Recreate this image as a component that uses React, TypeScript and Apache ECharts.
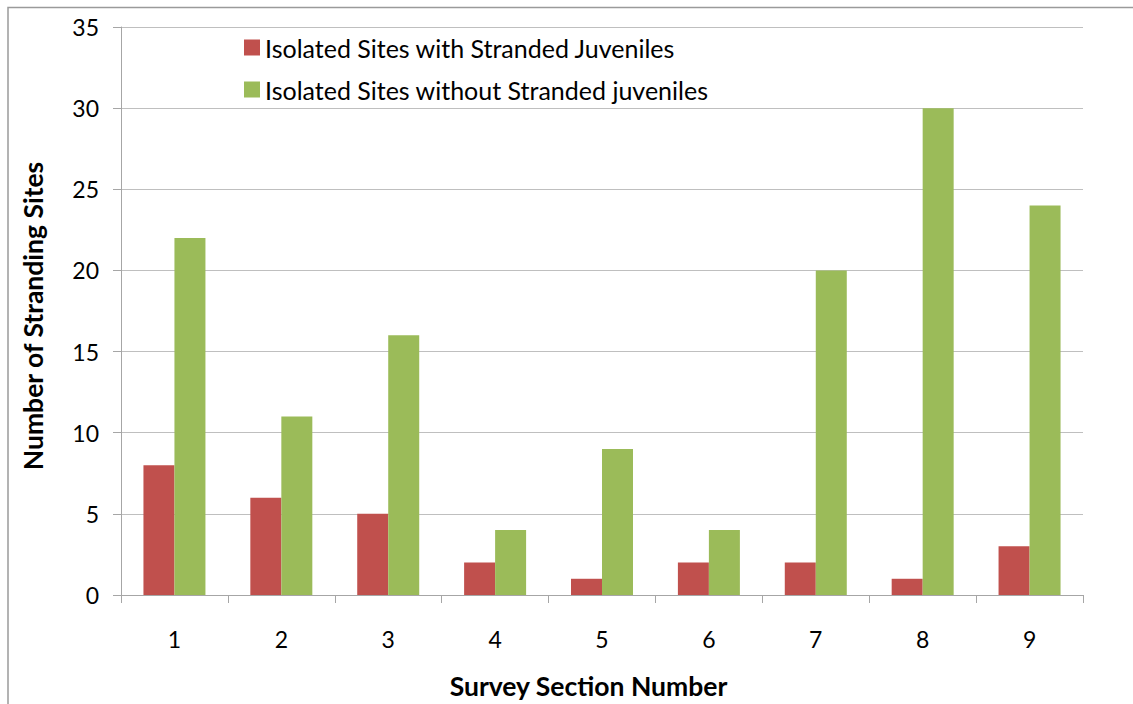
import React, { useEffect, useRef } from "react";
import * as echarts from "echarts";

const sections = ["1", "2", "3", "4", "5", "6", "7", "8", "9"];
const withJuveniles = [8, 6, 5, 2, 1, 2, 2, 1, 3];
const withoutJuveniles = [22, 11, 16, 4, 9, 4, 20, 30, 24];
const seriesNames = [
  "Isolated Sites with Stranded Juveniles",
  "Isolated Sites without Stranded juveniles",
];

const FONT = "Lato, 'Open Sans', sans-serif";

export default function App() {
  const ref = useRef<HTMLDivElement>(null);

  useEffect(() => {
    if (!ref.current) return;
    const chart = echarts.init(ref.current, null, { renderer: "svg" });
    chart.setOption({
      animation: false,
      backgroundColor: "#ffffff",
      textStyle: { fontFamily: FONT, color: "#000" },
      graphic: [
        {
          type: "rect",
          shape: { x: 8, y: 7.5, width: 1200, height: 800 },
          style: { fill: "none", stroke: "#9a9a9a", lineWidth: 1.5 },
          silent: true,
          z: -1,
        },
      ],
      legend: {
        orient: "vertical",
        left: 239,
        top: 30,
        itemWidth: 16,
        itemHeight: 16,
        itemGap: 17,
        icon: "rect",
        textStyle: {
          fontSize: 25,
          lineHeight: 25,
          fontFamily: FONT,
          color: "#000",
        },
        data: seriesNames,
      },
      grid: { left: 121, right: 50, top: 27, bottom: 103, containLabel: false },
      xAxis: {
        type: "category",
        data: sections,
        name: "Survey Section Number",
        nameLocation: "middle",
        nameGap: 77,
        nameTextStyle: {
          fontSize: 26.5,
          fontWeight: "bold",
          fontFamily: FONT,
          color: "#000",
          padding: [0, 27, 0, 0],
        },
        axisLine: { lineStyle: { color: "#a6a6a6", width: 1 } },
        axisTick: { show: true, length: 8, lineStyle: { color: "#a6a6a6" } },
        axisLabel: { fontSize: 23, color: "#000", margin: 32, fontFamily: FONT },
      },
      yAxis: {
        type: "value",
        min: 0,
        max: 35,
        interval: 5,
        name: "Number of Stranding Sites",
        nameLocation: "middle",
        nameGap: 75,
        nameTextStyle: {
          fontSize: 26.5,
          fontWeight: "bold",
          fontFamily: FONT,
          color: "#000",
          padding: [0, 10, 0, 0],
        },
        axisLine: { show: true, lineStyle: { color: "#a6a6a6", width: 1 } },
        axisTick: { show: true, length: 8, lineStyle: { color: "#a6a6a6" } },
        axisLabel: { fontSize: 23, color: "#000", margin: 22, fontFamily: FONT },
        splitLine: { lineStyle: { color: "#bfbfbf", width: 1 } },
      },
      series: [
        {
          name: seriesNames[0],
          type: "bar",
          data: withJuveniles,
          itemStyle: { color: "#c0504d" },
          barGap: "0%",
          barCategoryGap: "42%",
        },
        {
          name: seriesNames[1],
          type: "bar",
          data: withoutJuveniles,
          itemStyle: { color: "#9bbb59" },
          barGap: "0%",
          barCategoryGap: "42%",
        },
      ],
    });
    return () => chart.dispose();
  }, []);

  return (
    <div
      ref={ref}
      style={{ position: "absolute", left: 0, top: 0, width: 1133, height: 704 }}
    />
  );
}
